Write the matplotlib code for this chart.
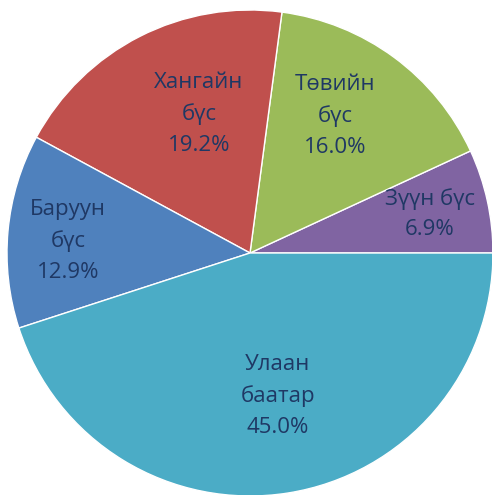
import matplotlib.pyplot as plt
import numpy as np

regions = ["Зүүн бүс", "Төвийн\nбүс", "Хангайн\nбүс", "Баруун\nбүс", "Улаан\nбаатар"]
shares = [6.9, 16.0, 19.2, 12.9, 45.0]
colors = ["#8064A2", "#9BBB59", "#C0504D", "#4F81BD", "#4BACC6"]
# label placement in polar form (radius fraction, degrees)
label_dist = [0.757, 0.664, 0.609, 0.75, 0.60]
label_angle = [12.2, 58.2, 110.2, 176.2, 281.0]

fig = plt.figure(figsize=(4.92, 4.95), dpi=100)
ax = fig.add_axes([7 / 492, -1 / 495, 486 / 492, 486 / 495])

wedges, _ = ax.pie(shares, colors=colors, startangle=0, counterclock=True,
                   wedgeprops=dict(edgecolor="white", linewidth=1))

# labels inside each slice
for name, val, d, a in zip(regions, shares, label_dist, label_angle):
    t = np.deg2rad(a)
    ax.text(d * np.cos(t), d * np.sin(t), f"{name}\n{val:.1f}%",
            ha="center", va="center", fontsize=16, color="#1F3864",
            family="Open Sans", linespacing=1.6)

ax.set_xlim(-1, 1)
ax.set_ylim(-1, 1)
ax.set_aspect("equal")
ax.axis("off")

fig.savefig("out.png", dpi=100)
